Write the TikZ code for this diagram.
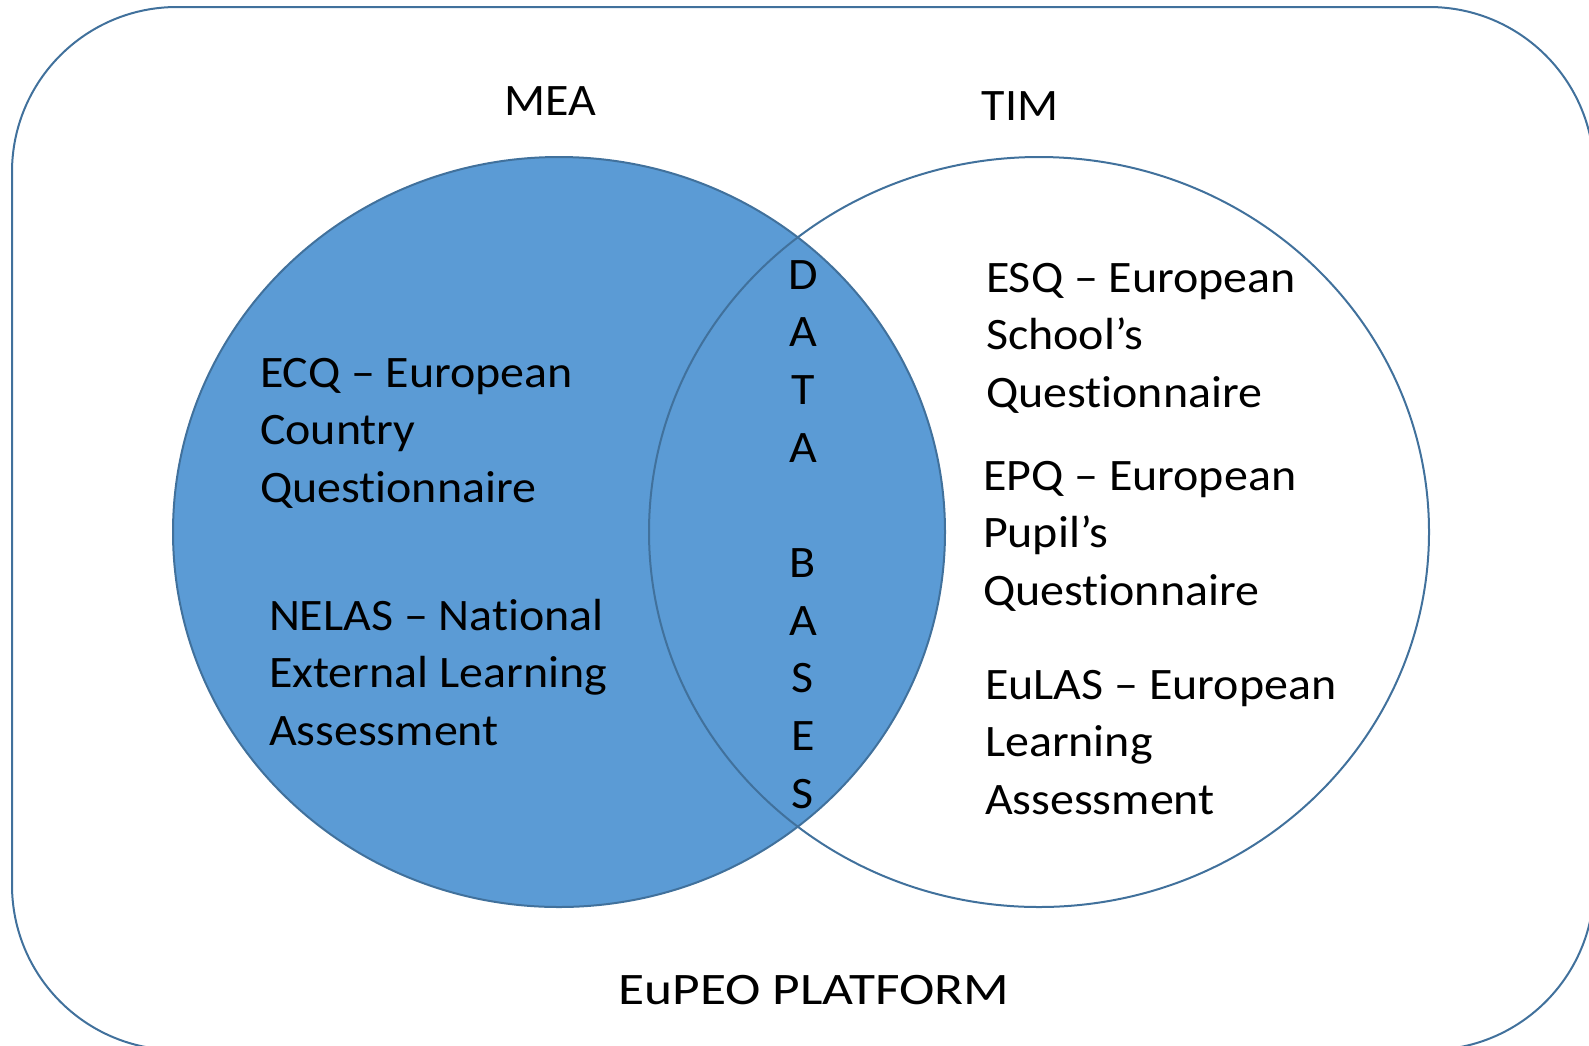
\documentclass[tikz,border=0pt]{standalone}
\usepackage{fontspec}
\setmainfont{Carlito}[FakeStretch=1.066, Ligatures={TeX,NoCommon}]
\newfontfamily\platformfont{Carlito}[FakeStretch=1.186, Ligatures={TeX,NoCommon}]
\definecolor{vennfill}{HTML}{5B9BD5}
\definecolor{vennline}{HTML}{41719C}

\begin{document}
\begin{tikzpicture}[x=1pt, y=-1pt, line width=2pt,
		every node/.style={inner sep=0pt, font=\fontsize{45}{57.7}\selectfont},
		block/.style={align=left, anchor=base west}]
		\useasboundingbox (0,0) rectangle (1589,1045);
		\clip (0,0) rectangle (1589,1045);

		% platform frame, runs off the right and bottom edge
		\draw[vennline, rounded corners=165pt] (12,7) rectangle (1594,1050);

		% the two sets, only MEA is filled
		\fill[vennfill] (559,532) ellipse (386pt and 375pt);
		\draw[vennline] (559,532) ellipse (386pt and 375pt);
		\draw[vennline] (1039,532) ellipse (390pt and 375pt);

		\node[anchor=base] (mea) at (550,115) {MEA};
		\node[anchor=base] (tim) at (1020,120) {TIM};

		% multi-line nodes sit on the baseline of their last line
		\node[block] (ecq) at (259,502.4) {ECQ – European\\Country\\Questionnaire};
		\node[block] (nelas) at (268,745.4) {NELAS – National\\External Learning\\Assessment};

		\node[block] (esq) at (985,407.4) {ESQ – European\\School’s\\Questionnaire};
		\node[block] (epq) at (982,605.4) {EPQ – European\\Pupil’s\\Questionnaire};
		\node[block] (eulas) at (984,814.4) {EuLAS – European\\Learning\\Assessment};

		\node[align=center, anchor=base] (db) at (803,808.3)
			{D\\A\\T\\A\\[57.7pt]B\\A\\S\\E\\S};

		\node[anchor=base, font=\platformfont\fontsize{45}{57.7}\selectfont] (platform)
			at (814,1004) {EuPEO PLATFORM};
	\end{tikzpicture}
\end{document}
